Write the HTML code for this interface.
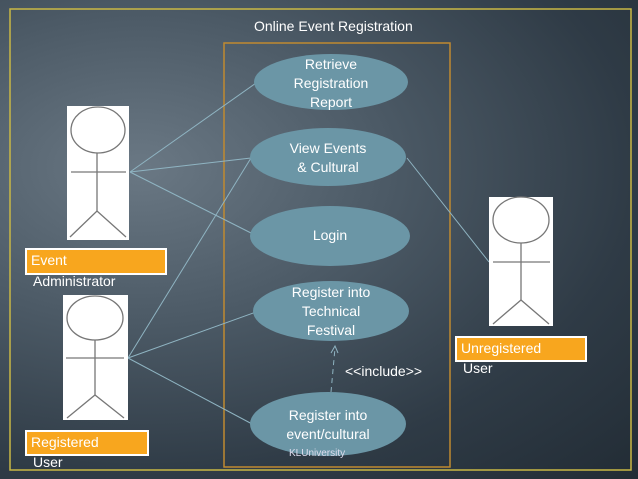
<!DOCTYPE html>
<html><head><style>
html,body{margin:0;padding:0}
body{width:638px;height:479px;overflow:hidden;background:radial-gradient(ellipse at 22% 35%,#6a7884 0%,#4c5a66 35%,#2f3b46 70%,#222c35 100%);font-family:"Liberation Sans",sans-serif;position:relative}
svg{position:absolute;left:0;top:0}
.lbl{position:absolute;background:#f8a61e;border:2px solid #fff;color:#fff;font-size:14px;line-height:20px;padding-left:4px;box-sizing:border-box}
.t{position:absolute;color:#fff;font-size:14px}
</style></head><body>
<svg width="638" height="479">
<rect x="10" y="9" width="621" height="461" fill="none" stroke="#c9b845" stroke-width="1.5"/>
<rect x="224" y="43" width="226" height="424" fill="none" stroke="#c08a30" stroke-width="1.5"/>
<g stroke="#8fb4c2" stroke-width="1" fill="none">
<line x1="130" y1="172" x2="256" y2="83"/>
<line x1="130" y1="172" x2="251" y2="158"/>
<line x1="130" y1="172" x2="251" y2="233"/>
<line x1="128" y1="358" x2="251" y2="158"/>
<line x1="128" y1="358" x2="256" y2="312"/>
<line x1="128" y1="358" x2="254" y2="425"/>
<line x1="407" y1="158" x2="489" y2="262"/>
</g>
<g fill="#6b96a6">
<ellipse cx="331" cy="82" rx="77" ry="28"/>
<ellipse cx="328" cy="157" rx="78" ry="29"/>
<ellipse cx="330" cy="236" rx="80" ry="30"/>
<ellipse cx="331" cy="311" rx="78" ry="30"/>
<ellipse cx="328" cy="424" rx="78" ry="32"/>
</g>
<line x1="331" y1="392" x2="335" y2="348" stroke="#8fb4c2" stroke-dasharray="5,4"/>
<polyline points="331,353 335,346 338,353" fill="none" stroke="#8fb4c2"/>
<g fill="#fff"><rect x="67" y="106" width="62" height="134"/><rect x="63" y="295" width="65" height="125"/><rect x="489" y="197" width="64" height="129"/></g>
<g stroke="#777" stroke-width="1.3" fill="none">
<ellipse cx="98" cy="130" rx="27" ry="23"/><line x1="97" y1="153" x2="97" y2="211"/><line x1="71" y1="172" x2="126" y2="172"/><polyline points="70,237 97,211 126,237"/>
<ellipse cx="95" cy="318" rx="28" ry="22"/><line x1="95" y1="340" x2="95" y2="395"/><line x1="66" y1="358" x2="124" y2="358"/><polyline points="67,418 95,395 124,418"/>
<ellipse cx="521" cy="220" rx="28" ry="23"/><line x1="521" y1="243" x2="521" y2="300"/><line x1="493" y1="262" x2="550" y2="262"/><polyline points="493,324 521,300 549,324"/>
</g>
</svg>
<div class="t" style="left:254px;top:18px">Online Event Registration</div>
<div class="t" style="left:254px;top:55px;width:154px;text-align:center;line-height:19px">Retrieve<br>Registration<br>Report</div>
<div class="t" style="left:250px;top:139px;width:156px;text-align:center;line-height:19px">View Events<br>&amp; Cultural</div>
<div class="t" style="left:250px;top:227px;width:160px;text-align:center">Login</div>
<div class="t" style="left:253px;top:283px;width:156px;text-align:center;line-height:19px">Register into<br>Technical<br>Festival</div>
<div class="t" style="left:250px;top:406px;width:156px;text-align:center;line-height:19px">Register into<br>event/cultural</div>
<div class="t" style="left:345px;top:363px">&lt;&lt;include&gt;&gt;</div>
<div class="t" style="left:289px;top:448px;font-size:10px;color:#dde">KLUniversity</div>
<div class="lbl" style="left:25px;top:248px;width:142px;height:27px">Event</div>
<div class="t" style="left:33px;top:273px">Administrator</div>
<div class="lbl" style="left:25px;top:430px;width:124px;height:26px">Registered</div>
<div class="t" style="left:33px;top:454px">User</div>
<div class="lbl" style="left:455px;top:336px;width:132px;height:26px">Unregistered</div>
<div class="t" style="left:463px;top:360px">User</div>
</body></html>
